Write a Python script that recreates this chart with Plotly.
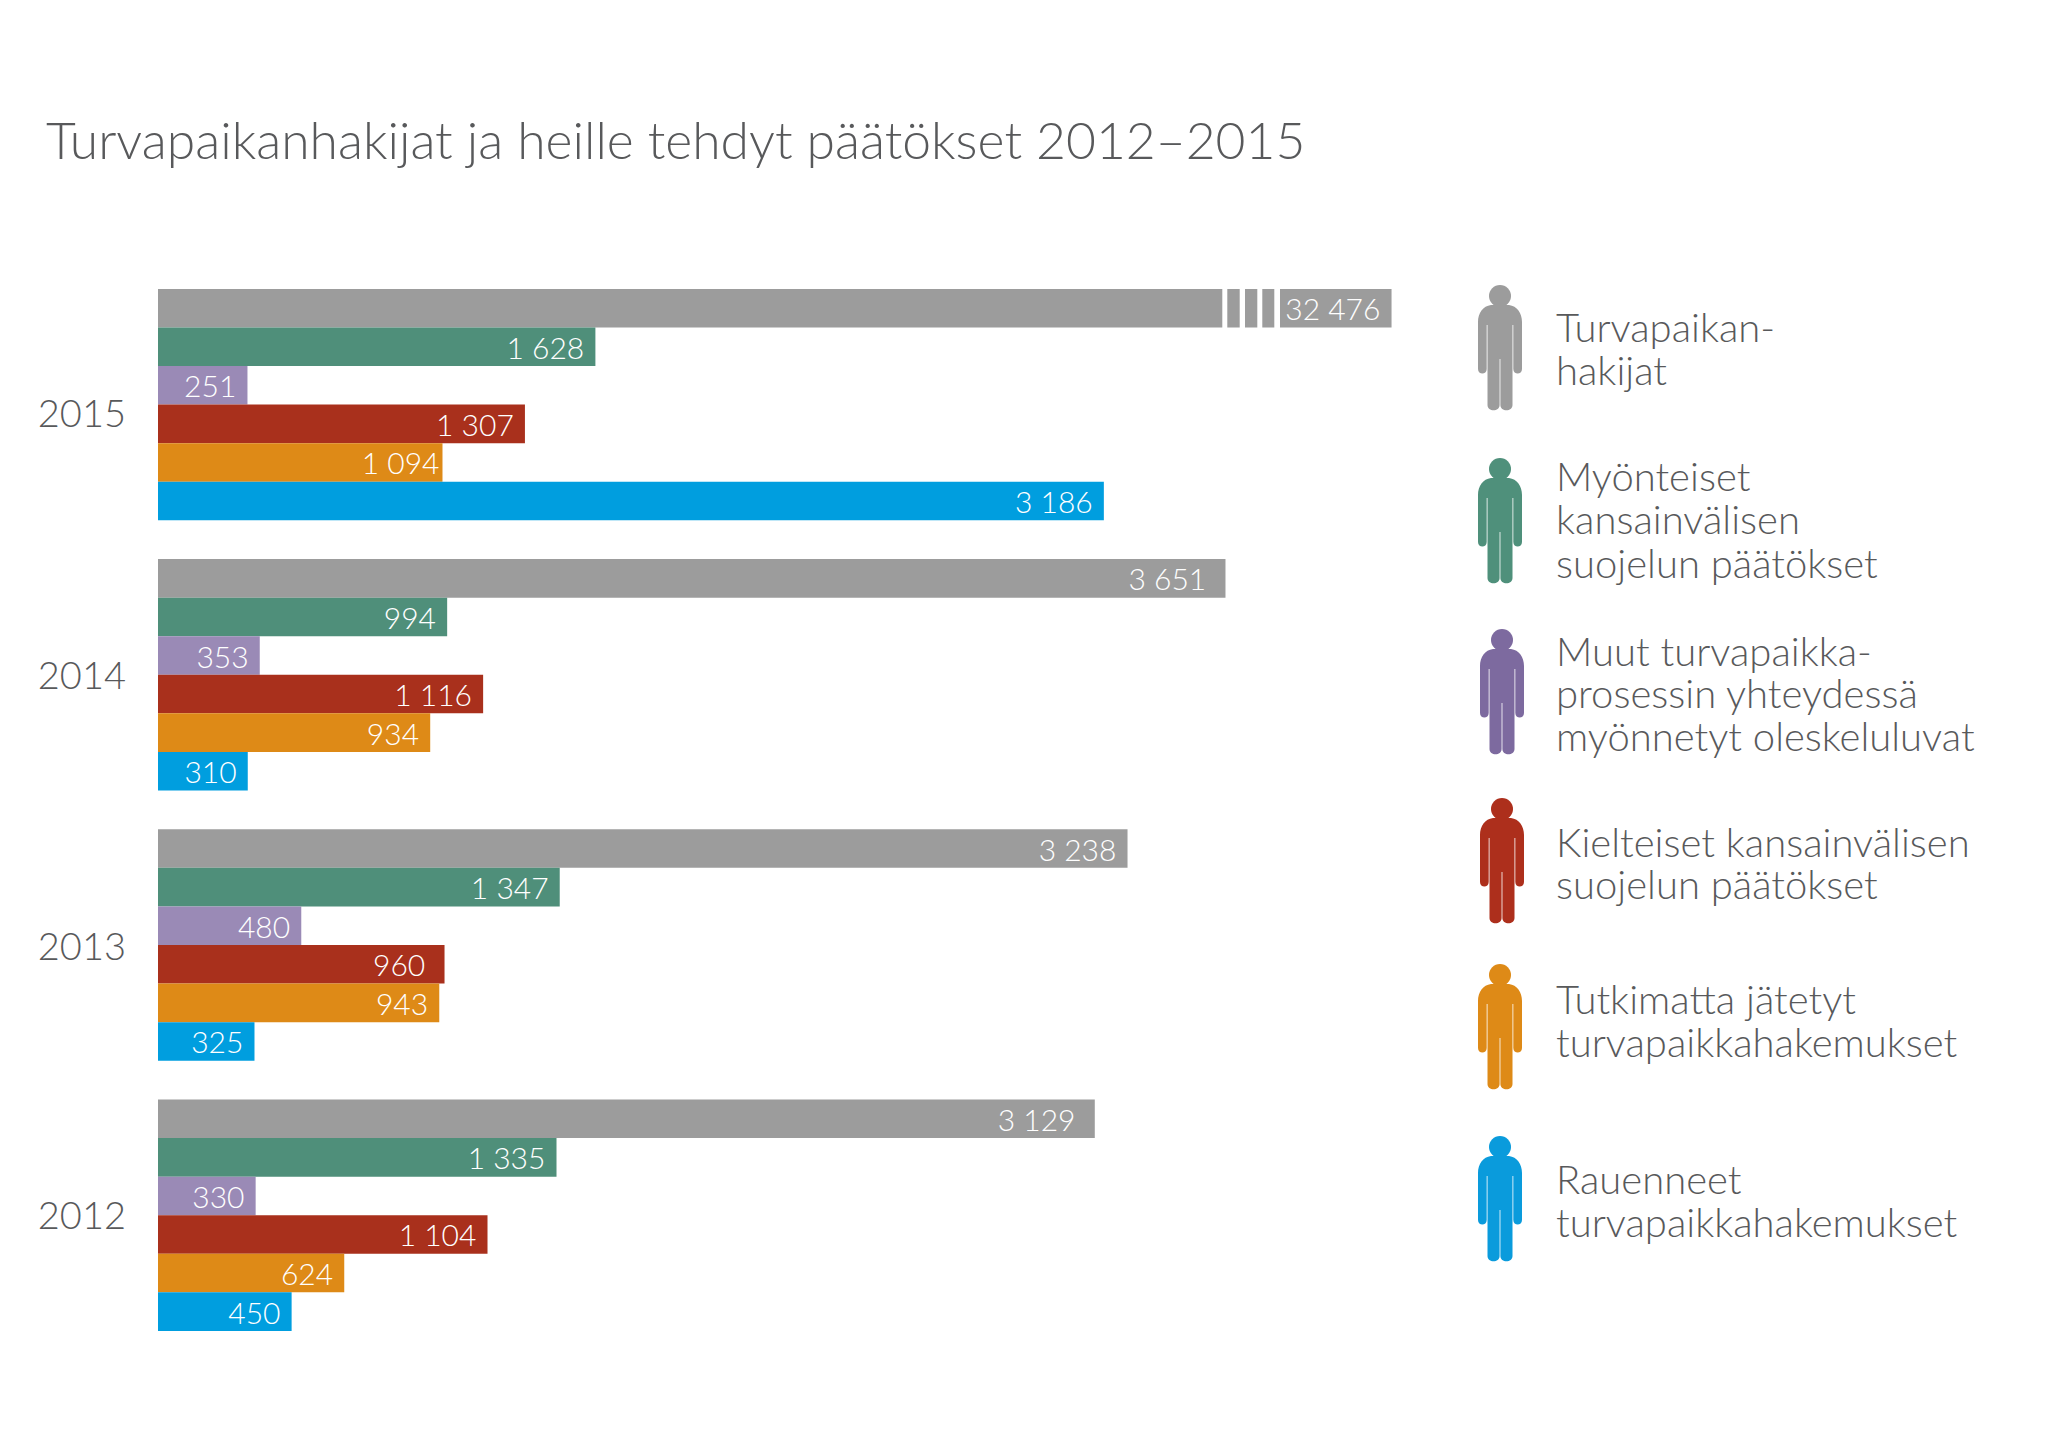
import plotly.graph_objects as go

years = ["2015", "2014", "2013", "2012"]
year_label_pos = [0.034, 1.005, 2.005, 3]

# printed figures
hakijat = [32476, 3651, 3238, 3129]
myonteiset = [1628, 994, 1347, 1335]
muut = [251, 353, 480, 330]
kielteiset = [1307, 1116, 960, 1104]
tutkimatta = [1094, 934, 943, 624]
rauenneet = [3186, 310, 325, 450]

# bar lengths as drawn in the picture, the source chart is not quite to scale
# and the 2015 applicants bar is cut short
hakijat_bar = [4219, 3651, 3316, 3204]
myonteiset_bar = [1496, 989, 1374, 1363]
muut_bar = [306, 348, 490, 334]
kielteiset_bar = [1255, 1112, 980, 1127]
tutkimatta_bar = [973, 931, 962, 637]
rauenneet_bar = [3235, 307, 330, 457]

colors = ["#9c9c9c", "#4f8f7a", "#9a8ab6", "#a9301c", "#de8a17", "#009edf"]
icon_colors = ["#9c9c9c", "#4f907b", "#7d6a9f", "#ad2f1c", "#de8a17", "#0a9bdc"]

legend_lines = [
    ["Turvapaikan-", "hakijat"],
    ["Myönteiset", "kansainvälisen", "suojelun päätökset"],
    ["Muut turvapaikka-", "prosessin yhteydessä", "myönnetyt oleskeluluvat"],
    ["Kielteiset kansainvälisen", "suojelun päätökset"],
    ["Tutkimatta jätetyt", "turvapaikkahakemukset"],
    ["Rauenneet", "turvapaikkahakemukset"],
]
legend_baselines = [
    [341, 384],
    [490, 533, 577],
    [665, 707, 750],
    [856, 898],
    [1013, 1056],
    [1193, 1236],
]
icon_centers = [1500, 1500, 1502, 1502, 1500, 1500]
icon_tops = [285, 458, 629, 798, 964, 1136]

break_stripes = [(1222.3, 1227.3), (1239.7, 1245), (1257.3, 1262.3), (1274.3, 1280)]

FONT = "Lato"
TEXT = "#58595b"
W, H = 2032, 1435
LEFT = 150


def px(x):
    return (x - 8 - LEFT) / (W - LEFT)


def py(y):
    return 1 - (y - 8) / H


def fmt(v):
    # labels sit a bit further from the bar end on these
    pad = 2 if v in (3651, 3129, 960) else 0 if v == 1094 else 1
    return f"{v:,}".replace(",", " ") + "\u00a0" * pad


series = [
    ("Turvapaikanhakijat", hakijat_bar, hakijat),
    ("Myönteiset", myonteiset_bar, myonteiset),
    ("Muut", muut_bar, muut),
    ("Kielteiset", kielteiset_bar, kielteiset),
    ("Tutkimatta jätetyt", tutkimatta_bar, tutkimatta),
    ("Rauenneet", rauenneet_bar, rauenneet),
]

fig = go.Figure()
for (name, bars, printed), color in zip(series, colors):
    fig.add_trace(go.Bar(
        y=years, x=bars, name=name, orientation="h",
        marker=dict(color=color, line=dict(width=0)),
        text=[fmt(v) for v in printed],
        textposition="inside", insidetextanchor="end",
        textangle=0, constraintext="none",
        textfont=dict(family=FONT, size=30, color="white", weight=300),
    ))

# person icon, pixel offsets from the top of the head
BODY = ("M -9 -20 C -17 -21 -22 -28 -22 -37 L -22 -84 "
        "C -22 -90 -13.3 -90 -13.3 -84 L -13.3 -40 L -12.5 -40 L -12.5 -120 "
        "C -12.5 -127 -0.4 -127 -0.4 -120 L -0.4 -74 L 0.4 -74 L 0.4 -120 "
        "C 0.4 -127 12.5 -127 12.5 -120 L 12.5 -40 L 13.3 -40 L 13.3 -84 "
        "C 13.3 -90 22 -90 22 -84 L 22 -37 C 22 -28 17 -21 9 -20 Z")

shapes = []
annotations = []
for cx, top, color in zip(icon_centers, icon_tops, icon_colors):
    shapes.append(dict(type="circle", xref="paper", yref="paper",
                       xsizemode="pixel", ysizemode="pixel",
                       xanchor=px(cx), yanchor=py(top),
                       x0=-11, x1=11, y0=-22, y1=0,
                       fillcolor=color, line=dict(width=0)))
    shapes.append(dict(type="path", xref="paper", yref="paper",
                       xsizemode="pixel", ysizemode="pixel",
                       xanchor=px(cx), yanchor=py(top), path=BODY,
                       fillcolor=color, line=dict(width=0)))

for x0, x1 in break_stripes:
    shapes.append(dict(type="rect", xref="paper", yref="paper",
                       x0=px(x0), x1=px(x1), y0=py(284), y1=py(332),
                       fillcolor="white", line=dict(width=0), layer="above"))

for lines, baselines in zip(legend_lines, legend_baselines):
    for line, base in zip(lines, baselines):
        annotations.append(dict(
            text=line, xref="paper", yref="paper", showarrow=False,
            x=px(1553.5), y=py(base), xanchor="left", yanchor="bottom", yshift=-12,
            font=dict(family=FONT, size=40, color=TEXT, weight=300),
        ))

fig.update_layout(
    width=W, height=H,
    margin=dict(l=LEFT, r=0, t=0, b=0),
    paper_bgcolor="white", plot_bgcolor="white",
    barmode="group", bargap=0.1436, bargroupgap=0,
    showlegend=False,
    title=dict(text="Turvapaikanhakijat ja heille tehdyt päätökset 2012–2015",
               x=38 / W, xanchor="left", y=1 - 133 / H, yanchor="middle",
               font=dict(family=FONT, size=51.6, color=TEXT, weight=300)),
    xaxis=dict(range=[0, (W - LEFT) / 0.29238], visible=False),
    yaxis=dict(type="category", range=[3.8431, -1.4678],
               showgrid=False, zeroline=False, showline=False, ticks="",
               tickmode="array", tickvals=year_label_pos, ticktext=years,
               ticklabelstandoff=31,
               tickfont=dict(family=FONT, size=38, color=TEXT, weight=300)),
    shapes=shapes, annotations=annotations,
)

fig.write_html("out.html")
